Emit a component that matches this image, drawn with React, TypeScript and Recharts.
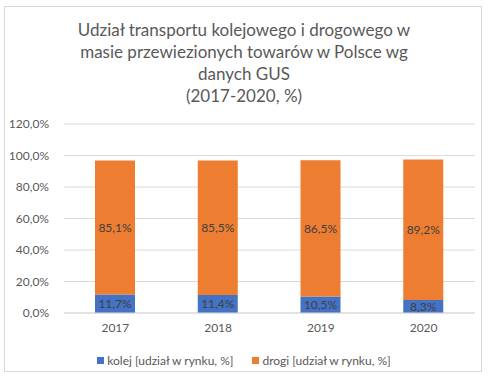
import React from 'react';
import { BarChart, Bar, XAxis, YAxis, CartesianGrid, LabelList } from 'recharts';

const years = ['2017', '2018', '2019', '2020'];
const kolej = [11.7, 11.4, 10.5, 8.3];
const drogi = [85.1, 85.5, 86.5, 89.2];
const yTicks = [0, 20, 40, 60, 80, 100, 120];
const titleLines = [
  'Udział transportu kolejowego i drogowego w',
  'masie przewiezionych towarów w Polsce wg',
  'danych GUS',
  '(2017-2020, %)',
];
const seriesNames = { kolej: 'kolej [udział w rynku, %]', drogi: 'drogi [udział w rynku, %]' };

const data = years.map((y, i) => ({ year: y, kolej: kolej[i], drogi: drogi[i] }));

const FONT = 'Lato, "Open Sans", sans-serif';
const BLUE = '#4472C4';
const ORANGE = '#ED7D31';

const fmt = (v: number) => `${v.toFixed(1).replace('.', ',')}%`;

const LegendBlock = () => (
  <div style={{ position: 'absolute', left: 0, top: 353, width: 488, display: 'flex', justifyContent: 'center', gap: 19, fontFamily: FONT, fontSize: 12, color: '#595959' }}>
    {[{ c: BLUE, n: seriesNames.kolej }, { c: ORANGE, n: seriesNames.drogi }].map((it) => (
      <span key={it.n} style={{ display: 'inline-flex', alignItems: 'center' }}>
        <span style={{ width: 7, height: 7, background: it.c, display: 'inline-block', marginRight: 3 }} />
        {it.n}
      </span>
    ))}
  </div>
);

export default function App() {
  return (
    <div style={{ position: 'fixed', left: 0, top: 0, width: 488, height: 378, background: '#fff' }}>
      <div style={{ position: 'absolute', left: 4, top: 6, width: 478, height: 366, border: '1px solid #d9d9d9', boxSizing: 'border-box' }} />
      <div style={{ position: 'absolute', left: 0, top: 19, width: 488, textAlign: 'center', fontFamily: FONT, fontSize: 17, lineHeight: '22px', color: '#595959' }}>
        {titleLines.map((t) => (
          <div key={t}>{t}</div>
        ))}
      </div>
      <div style={{ position: 'absolute', left: 0, top: 0 }}>
        <BarChart width={488} height={378} data={data} margin={{ top: 124, right: 13, bottom: 35, left: 0 }}>
          <CartesianGrid vertical={false} stroke="#d9d9d9" />
          <XAxis
            dataKey="year"
            height={30}
            axisLine={{ stroke: '#d9d9d9' }}
            tickLine={false}
            tickSize={0}
            tickMargin={10}
            tick={{ fill: '#595959', fontSize: 12, fontFamily: FONT }}
          />
          <YAxis
            width={64}
            domain={[0, 120]}
            ticks={yTicks}
            axisLine={false}
            tickLine={false}
            tickSize={0}
            tickMargin={15}
            tickFormatter={fmt}
            tick={{ fill: '#595959', fontSize: 12, fontFamily: FONT }}
          />
          <Bar dataKey="kolej" stackId="a" fill={BLUE} barSize={40} isAnimationActive={false}>
            <LabelList dataKey="kolej" position="center" formatter={fmt} fill="#404040" fontSize={12} fontFamily={FONT} />
          </Bar>
          <Bar dataKey="drogi" stackId="a" fill={ORANGE} barSize={40} isAnimationActive={false}>
            <LabelList dataKey="drogi" position="center" formatter={fmt} fill="#404040" fontSize={12} fontFamily={FONT} />
          </Bar>
        </BarChart>
      </div>
      <LegendBlock />
    </div>
  );
}
